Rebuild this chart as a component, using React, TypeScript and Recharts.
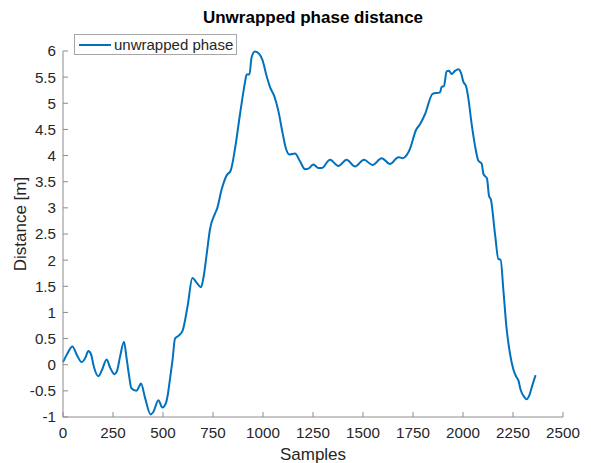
import { LineChart, Line, XAxis, YAxis, Legend } from 'recharts'

// sample index and unwrapped distance [m]
const samples = [
  0, 20, 47, 70, 93, 110, 127, 140, 155, 177, 195, 218, 235, 257, 270, 285, 305, 317, 330, 342,
  368, 380, 390, 410, 438, 452, 477, 497, 513, 525, 535, 548, 560, 580, 598, 623, 647, 668, 690, 702,
  718, 735, 760, 770, 793, 818, 838, 860, 885, 910, 918, 932, 943, 960, 982, 998, 1018, 1035, 1055, 1077,
  1098, 1115, 1132, 1160, 1185, 1210, 1227, 1252, 1277, 1293, 1335, 1377, 1418, 1460, 1505, 1548, 1593, 1635, 1677, 1698,
  1718, 1735, 1765, 1785, 1810, 1848, 1885, 1893, 1905, 1918, 1930, 1943, 1960, 1977, 1990, 2002, 2015, 2027, 2043, 2060,
  2077, 2093, 2102, 2120, 2130, 2140, 2160, 2177, 2188, 2202, 2218, 2235, 2252, 2265, 2277, 2288, 2305, 2318, 2330, 2347,
  2363,
]
const distance = [
  0.05, 0.2, 0.35, 0.18, 0.05, 0.12, 0.26, 0.2, -0.05, -0.22, -0.1, 0.1, -0.05, -0.18, -0.12, 0.15, 0.44, 0.15, -0.2, -0.45,
  -0.5, -0.42, -0.36, -0.63, -0.95, -0.9, -0.68, -0.82, -0.75, -0.55, -0.27, 0.1, 0.5, 0.56, 0.65, 1.12, 1.66, 1.57, 1.48, 1.66,
  2.1, 2.59, 2.89, 2.98, 3.35, 3.62, 3.71, 4.13, 4.79, 5.4, 5.55, 5.55, 5.88, 5.99, 5.94, 5.82, 5.52, 5.31, 5.15, 4.85,
  4.43, 4.13, 4.02, 4.04, 3.89, 3.74, 3.75, 3.83, 3.76, 3.76, 3.92, 3.8, 3.92, 3.79, 3.92, 3.82, 3.95, 3.84, 3.97, 3.95,
  4.01, 4.13, 4.49, 4.6, 4.79, 5.18, 5.21, 5.31, 5.33, 5.61, 5.62, 5.56, 5.62, 5.65, 5.58, 5.41, 5.33, 5.09, 4.61, 4.19,
  3.9, 3.85, 3.65, 3.56, 3.23, 3.15, 2.5, 2.02, 2.01, 1.42, 0.69, 0.21, -0.09, -0.22, -0.3, -0.48, -0.61, -0.66, -0.6, -0.39,
  -0.2,
]

const xTicks = [0, 250, 500, 750, 1000, 1250, 1500, 1750, 2000, 2250, 2500]
const yTicks = [-1, -0.5, 0, 0.5, 1, 1.5, 2, 2.5, 3, 3.5, 4, 4.5, 5, 5.5, 6]

const data = samples.map((s, i) => ({ sample: s, dist: distance[i] }))

const FONT = '"Liberation Sans", Arial, sans-serif'
const TEXT = '#262626'
const AXIS = '#8c8c8c'
const BLUE = '#0072BD'

function LegendBox() {
  return (
    <div
      style={{
        display: 'flex',
        alignItems: 'center',
        border: '1px solid #a6a6a6',
        background: '#fff',
        height: 19,
        width: 161,
        boxSizing: 'content-box',
        fontFamily: FONT,
        fontSize: 15,
        color: TEXT,
      }}
    >
      <div style={{ width: 32, height: 2, background: BLUE, marginLeft: 4, marginRight: 3 }} />
      <span>unwrapped phase</span>
    </div>
  )
}

export default function App() {
  return (
    <div style={{ position: 'absolute', left: 0, top: 0, width: 591, height: 463, background: '#fff' }}>
      <LineChart width={591} height={463} data={data} margin={{ top: 30, right: 28, bottom: 0, left: 0 }}>
        <XAxis
          dataKey="sample"
          type="number"
          domain={[0, 2500]}
          ticks={xTicks}
          height={46}
          tickSize={-5}
          tickMargin={15}
          stroke={AXIS}
          tick={{ fill: TEXT, fontSize: 15.2, fontFamily: FONT }}
          interval={0}
        />
        <YAxis
          type="number"
          domain={[-1, 6]}
          ticks={yTicks}
          width={63}
          tickSize={-5}
          tickMargin={12}
          stroke={AXIS}
          tick={{ fill: TEXT, fontSize: 15.2, fontFamily: FONT }}
          interval={0}
        />
        <Legend
          verticalAlign="top"
          align="left"
          content={() => <LegendBox />}
          wrapperStyle={{ left: 74, top: 34, width: 'auto' }}
        />
        <Line
          type="monotone"
          dataKey="dist"
          stroke={BLUE}
          strokeWidth={2}
          dot={false}
          isAnimationActive={false}
        />
      </LineChart>
      <div
        style={{
          position: 'absolute',
          left: 63,
          width: 500,
          top: 9,
          textAlign: 'center',
          fontFamily: FONT,
          fontWeight: 'bold',
          fontSize: 17,
          lineHeight: '17px',
          color: '#000',
        }}
      >
        Unwrapped phase distance
      </div>
      <div
        style={{
          position: 'absolute',
          left: 63,
          width: 500,
          top: 446,
          textAlign: 'center',
          fontFamily: FONT,
          fontSize: 17,
          lineHeight: '17px',
          color: TEXT,
        }}
      >
        Samples
      </div>
      <div
        style={{
          position: 'absolute',
          left: 20,
          top: 223.5,
          transform: 'translate(-50%, -50%) rotate(-90deg)',
          whiteSpace: 'nowrap',
          fontFamily: FONT,
          fontSize: 17,
          lineHeight: '17px',
          color: TEXT,
        }}
      >
        Distance [m]
      </div>
    </div>
  )
}
